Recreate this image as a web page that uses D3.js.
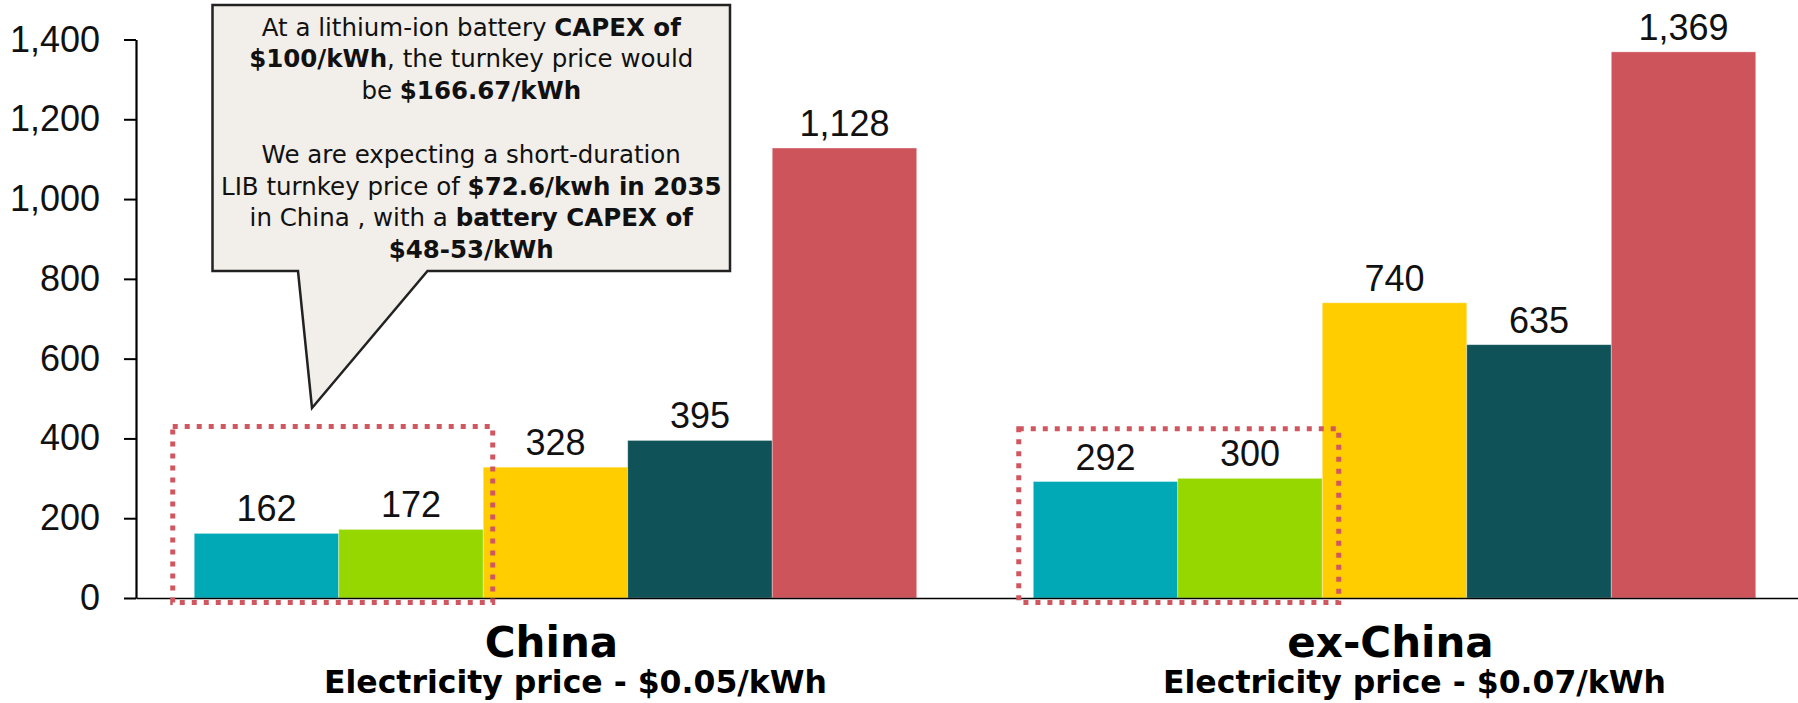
<!DOCTYPE html>
<html>
<head>
<meta charset="utf-8">
<script src="https://cdn.jsdelivr.net/npm/d3@7"></script>
<style>
  html, body { margin: 0; padding: 0; background: #fff; }
  svg { display: block; }
</style>
</head>
<body>
<svg id="chart" width="1798" height="703"></svg>
<script>
// ---- data ----
const categories = ["China", "ex-China"];
const subtitles = ["Electricity price - $0.05/kWh", "Electricity price - $0.07/kWh"];
const seriesNames = ["Series 1", "Series 2", "Series 3", "Series 4", "Series 5"];
const seriesColors = ["#00A9B5", "#97D700", "#FFCD00", "#0F5257", "#CD545B"];
const chinaValues = [162, 172, 328, 395, 1128];
const exChinaValues = [292, 300, 740, 635, 1369];
const yTicks = [0, 200, 400, 600, 800, 1000, 1200, 1400];
const calloutLines = [
  [["At a lithium-ion battery ", false], ["CAPEX of", true]],
  [["$100/kWh", true], [", the turnkey price would", false]],
  [["be ", false], ["$166.67/kWh", true]],
  [],
  [["We are expecting a short-duration", false]],
  [["LIB turnkey price of ", false], ["$72.6/kwh in 2035", true]],
  [["in China , with a ", false], ["battery CAPEX of", true]],
  [["$48-53/kWh", true]]
];

const valuesByCat = { "China": chinaValues, "ex-China": exChinaValues };
const table = categories.map(c => ({
  cat: c,
  bars: seriesNames.map((s, i) => ({ series: s, value: valuesByCat[c][i], color: seriesColors[i] }))
}));

const svg = d3.select("#chart");
const numFont = "'Liberation Sans', Arial, sans-serif";
const txtFont = "'DejaVu Sans', sans-serif";

const y = d3.scaleLinear().domain([0, 1400]).range([598, 39.5]);
const x0 = d3.scaleBand().domain(categories).range([136, 1814])
  .paddingInner(0.1389).paddingOuter(0.0694);
const x1 = d3.scaleBand().domain(seriesNames).range([0, x0.bandwidth()]);

// bars
const groups = svg.append("g").selectAll("g.grp").data(table).join("g")
  .attr("class", "grp")
  .attr("transform", d => `translate(${x0(d.cat)},0)`);

groups.selectAll("rect").data(d => d.bars).join("rect")
  .attr("x", d => x1(d.series))
  .attr("width", x1.bandwidth())
  .attr("y", d => y(d.value))
  .attr("height", d => y(0) - y(d.value))
  .attr("fill", d => d.color)
  .attr("stroke", "rgba(255,255,255,0.45)")
  .attr("stroke-width", 0.8);

groups.selectAll("text.val").data(d => d.bars).join("text")
  .attr("class", "val")
  .attr("x", d => x1(d.series) + x1.bandwidth() / 2)
  .attr("y", d => y(d.value) - 12)
  .attr("text-anchor", "middle")
  .attr("font-family", numFont)
  .attr("font-size", 36)
  .attr("fill", "#111")
  .text(d => d3.format(",")(d.value));

// y axis
const yAxis = svg.append("g").attr("transform", "translate(136,0)")
  .call(d3.axisLeft(y).tickValues(yTicks).tickFormat(d3.format(","))
    .tickSize(12).tickSizeOuter(0).tickPadding(24));
yAxis.select(".domain").attr("stroke", "#000").attr("stroke-width", 2.2);
yAxis.selectAll(".tick line").attr("stroke", "#000").attr("stroke-width", 2);
yAxis.selectAll(".tick text").attr("font-family", numFont).attr("font-size", 36).attr("fill", "#111");

// x axis baseline
const xAxis = svg.append("g").attr("transform", `translate(0,${y(0)})`)
  .call(d3.axisBottom(x0).tickSize(0).tickSizeOuter(0).tickFormat(""));
xAxis.select(".domain").attr("stroke", "#000").attr("stroke-width", 1.6);

// highlight dotted rectangles around first two series of each group
const hlOffsets = [-6, 1];
const hlTops = [430, 424];
categories.forEach((c, i) => {
  const pairCenter = x0(c) + x1(seriesNames[1]);
  const w = 320;
  const top = y(hlTops[i]);
  const bottom = y(0) + 4.5;
  svg.append("rect")
    .attr("x", pairCenter + hlOffsets[i] - w / 2)
    .attr("y", top)
    .attr("width", w)
    .attr("height", bottom - top)
    .attr("fill", "none")
    .attr("stroke", "#D0575F")
    .attr("stroke-width", 5)
    .attr("stroke-dasharray", "5,7");
});

// category labels
categories.forEach((c, i) => {
  const cx = x0(c) + x0.bandwidth() / 2;
  svg.append("text")
    .attr("x", cx - 4)
    .attr("y", 656.5)
    .attr("text-anchor", "middle")
    .attr("font-family", txtFont)
    .attr("font-weight", "bold")
    .attr("font-size", 42)
    .attr("fill", "#000")
    .text(c);
  svg.append("text")
    .attr("x", cx + 20)
    .attr("y", 693)
    .attr("text-anchor", "middle")
    .attr("font-family", txtFont)
    .attr("font-weight", "bold")
    .attr("font-size", 31.5)
    .attr("fill", "#000")
    .text(subtitles[i]);
});

// callout box with pointer
const bx0 = 212.5, bx1 = 730, by0 = 5, by1 = 271;
const tip = [312, 408];
svg.append("path")
  .attr("d", `M${bx0},${by0} H${bx1} V${by1} H427.5 L${tip[0]},${tip[1]} L298,${by1} H${bx0} Z`)
  .attr("fill", "#F2EEE9")
  .attr("stroke", "#222")
  .attr("stroke-width", 2.5)
  .attr("stroke-linejoin", "miter");

const cxText = (bx0 + bx1) / 2;
calloutLines.forEach((parts, i) => {
  if (!parts.length) return;
  const t = svg.append("text")
    .attr("x", cxText)
    .attr("y", 35.5 + i * 31.8)
    .attr("text-anchor", "middle")
    .attr("font-family", txtFont)
    .attr("font-size", 24.5)
    .attr("fill", "#111");
  parts.forEach(([s, b]) => {
    t.append("tspan").attr("font-weight", b ? "bold" : "normal").text(s);
  });
});
</script>
</body>
</html>
